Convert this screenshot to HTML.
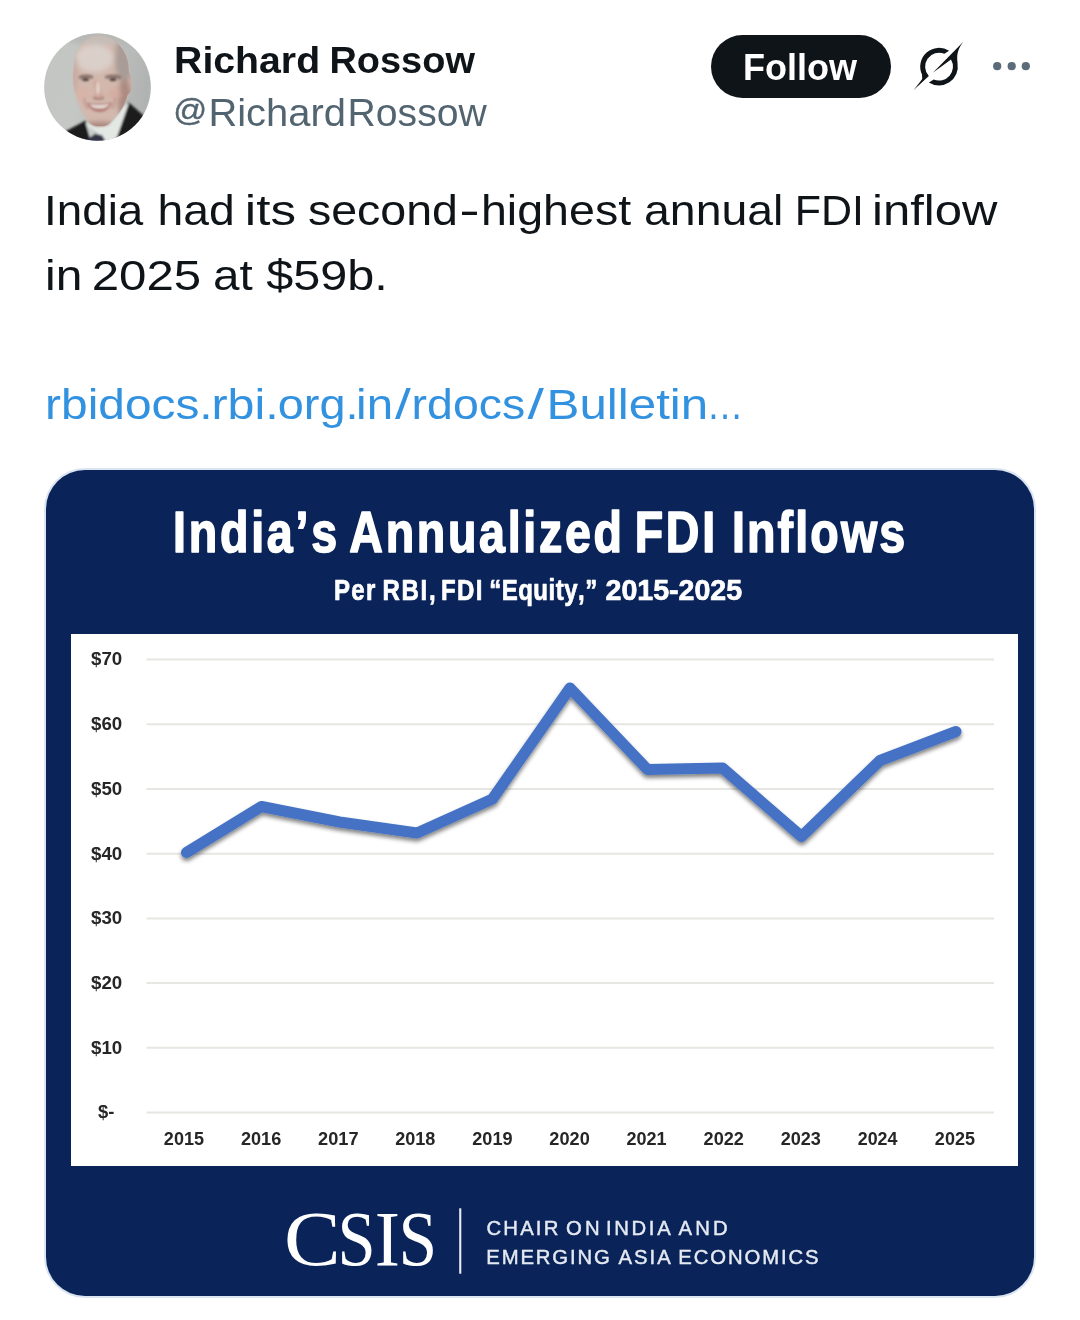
<!DOCTYPE html>
<html lang="en">
<head>
<meta charset="utf-8">
<title>Richard Rossow on X</title>
<style>
  html, body { margin: 0; padding: 0; background: #ffffff; }
  body { width: 1080px; height: 1320px; position: relative; overflow: hidden;
         font-family: "Liberation Sans", sans-serif; color: #0f1419; }
  .abs { position: absolute; }
  svg { display: block; overflow: visible; }
  svg text { font-family: "Liberation Sans", sans-serif; font-kerning: none; }
  .tweet { position: absolute; left: 0; top: 0; width: 1080px; height: 1320px; }
  .avatar { position: absolute; left: 40px; top: 30px; width: 115px; height: 115px; }
  .follow { position: absolute; left: 711px; top: 34.5px; width: 180px; height: 63.5px; border-radius: 32px; background: #0f1419; }
  .card { position: absolute; left: 46px; top: 469.6px; width: 988px; height: 826.4px; border-radius: 39px; background: #0a2459; overflow: hidden; box-shadow: 0 0 0 2px #dbe4f1; }
  .plot { position: absolute; left: 25.3px; top: 164.9px; width: 947px; height: 531.7px; background: #ffffff; }
</style>
</head>
<body>
<article class="tweet">

  <!-- avatar -->
  <div class="avatar">
    <svg width="115" height="115" viewBox="0 0 1080 1080">
      <defs>
        <filter id="b1" filterUnits="userSpaceOnUse" x="0" y="0" width="1080" height="1080"><feGaussianBlur stdDeviation="9"/></filter>
        <filter id="b2" filterUnits="userSpaceOnUse" x="0" y="0" width="1080" height="1080"><feGaussianBlur stdDeviation="26"/></filter>
        <filter id="b3" filterUnits="userSpaceOnUse" x="0" y="0" width="1080" height="1080"><feGaussianBlur stdDeviation="12"/></filter>
        <linearGradient id="abg" x1="0" y1="0" x2="1" y2="0.25">
          <stop offset="0" stop-color="#c2c5c2"/><stop offset="0.45" stop-color="#c4c7c4"/><stop offset="1" stop-color="#b0b3b1"/>
        </linearGradient>
        <clipPath id="acl"><ellipse cx="540" cy="537" rx="501" ry="503"/></clipPath>
        <clipPath id="head"><path d="M560 58 C440 60 345 150 325 300 C315 380 300 440 315 520 C330 640 380 760 450 860 C500 915 600 925 660 870 C740 800 800 700 822 610 C870 580 880 450 835 400 C840 250 760 70 560 58 Z"/></clipPath>
      </defs>
      <g clip-path="url(#acl)">
        <rect width="1080" height="1080" fill="url(#abg)"/>
        <ellipse cx="620" cy="60" rx="420" ry="90" fill="#b7b9b6" filter="url(#b2)"/>
        <!-- suit, shirt, tie -->
        <g filter="url(#b1)">
          <path d="M240 950 L430 850 L470 1010 L560 1080 L200 1080 Z" fill="#1b1b1f"/>
          <path d="M828 675 L975 805 L960 1080 L640 1080 L720 1000 Z" fill="#1b1b1f"/>
          <path d="M428 870 L470 1010 L540 1080 L660 1080 L725 1000 L835 685 L780 720 L640 900 L520 910 Z" fill="#e3e8e4"/>
          <path d="M440 900 L475 1005 L540 960 Z" fill="#c9cfca"/>
          <path d="M445 1025 L520 972 L585 990 L615 1045 L560 1080 L470 1080 Z" fill="#35364a"/>
        </g>
        <!-- head -->
        <g filter="url(#b1)">
          <path d="M560 58 C440 60 345 150 325 300 C315 380 300 440 315 520 C330 640 380 760 450 860 C500 915 600 925 660 870 C740 800 800 700 822 610 C870 580 880 450 835 400 C840 250 760 70 560 58 Z" fill="#d2b8ad"/>
        </g>
        <g clip-path="url(#head)">
          <g filter="url(#b2)">
            <ellipse cx="510" cy="265" rx="180" ry="130" fill="#dacfc9"/>
            <ellipse cx="580" cy="95" rx="240" ry="45" fill="#c6bdb8"/>
            <ellipse cx="790" cy="270" rx="85" ry="230" fill="#a99c96"/>
            <ellipse cx="795" cy="650" rx="65" ry="190" fill="#ab8a80"/>
            <ellipse cx="325" cy="420" rx="30" ry="170" fill="#c6aba2"/>
            <ellipse cx="410" cy="600" rx="60" ry="60" fill="#d8b2a7"/>
            <ellipse cx="700" cy="600" rx="60" ry="60" fill="#d5ada2"/>
            <ellipse cx="560" cy="905" rx="170" ry="40" fill="#ab867b"/>
          </g>
          <g filter="url(#b3)">
            <path d="M365 432 Q430 405 500 432 L495 458 Q430 440 370 462 Z" fill="#8b746c"/>
            <path d="M610 432 Q690 405 765 432 L758 462 Q690 440 615 458 Z" fill="#8b746c"/>
            <ellipse cx="428" cy="466" rx="34" ry="13" fill="#3b3132"/>
            <ellipse cx="685" cy="466" rx="34" ry="13" fill="#3b3132"/>
            <path d="M505 480 L520 600 L492 625 L520 640 L590 640 L610 620 L578 600 L560 480 Z" fill="#cda599"/>
            <path d="M498 630 Q545 652 603 630 L598 645 Q545 662 502 645 Z" fill="#96695f"/>
            <path d="M420 640 Q410 700 450 740" stroke="#bf948a" stroke-width="14" fill="none"/>
            <path d="M700 640 Q710 700 670 740" stroke="#bf948a" stroke-width="14" fill="none"/>
            <path d="M436 684 Q555 704 680 680 Q640 770 555 770 Q478 770 436 684 Z" fill="#b27a74"/>
            <path d="M462 698 Q555 712 656 694 Q624 738 555 738 Q492 738 462 698 Z" fill="#e6dbd6"/>
          </g>
          <ellipse cx="545" cy="545" rx="20" ry="65" fill="#e3cfc7" filter="url(#b3)"/>
        </g>
      </g>
    </svg>

  </div>

  <!-- name, handle, tweet text, link -->
  <svg class="abs" style="left:0;top:0" width="1080" height="460" viewBox="0 0 1080 460">
    <text y="73" font-size="37.5" font-weight="700" fill="#0f1419"><tspan x="174.08" textLength="146.01" lengthAdjust="spacingAndGlyphs">Richard</tspan> <tspan x="329.46" textLength="145.46" lengthAdjust="spacingAndGlyphs">Rossow</tspan></text>
    
    <text y="126.1" font-size="38" fill="#536471"><tspan x="173.17" y="120.8" font-size="32" stroke="#536471" stroke-width="0.4" textLength="33.91" lengthAdjust="spacingAndGlyphs">@</tspan><tspan x="208.43" y="126.1" textLength="137.44" lengthAdjust="spacingAndGlyphs">Richard</tspan><tspan x="347.59" textLength="139.11" lengthAdjust="spacingAndGlyphs">Rossow</tspan></text>

    <text y="225.4" font-size="43.4" fill="#0f1419"><tspan x="44.08" textLength="99.22" lengthAdjust="spacingAndGlyphs">India</tspan> <tspan x="157.49" textLength="77.19" lengthAdjust="spacingAndGlyphs">had</tspan> <tspan x="244.88" textLength="51.17" lengthAdjust="spacingAndGlyphs">its</tspan> <tspan x="307.9" textLength="150.1" lengthAdjust="spacingAndGlyphs">second</tspan><tspan x="459.27" textLength="20.46" lengthAdjust="spacingAndGlyphs">-</tspan><tspan x="480.97" textLength="150.17" lengthAdjust="spacingAndGlyphs">highest</tspan> <tspan x="644.03" textLength="139.38" lengthAdjust="spacingAndGlyphs">annual</tspan> <tspan x="794.78" textLength="69.19" lengthAdjust="spacingAndGlyphs">FDI</tspan> <tspan x="872.02" textLength="125.36" lengthAdjust="spacingAndGlyphs">inflow</tspan></text>
    <text y="290.1" font-size="43.4" fill="#0f1419"><tspan x="45.09" textLength="37.32" lengthAdjust="spacingAndGlyphs">in</tspan> <tspan x="91.72" textLength="109.54" lengthAdjust="spacingAndGlyphs">2025</tspan> <tspan x="212.98" textLength="39.67" lengthAdjust="spacingAndGlyphs">at</tspan> <tspan x="266.18" textLength="121.56" lengthAdjust="spacingAndGlyphs">$59b.</tspan></text>

    <text y="419.4" font-size="43.4" fill="#3392df"><tspan x="45.12" textLength="167.55" lengthAdjust="spacingAndGlyphs">rbidocs.</tspan><tspan x="211.49" textLength="67.12" lengthAdjust="spacingAndGlyphs">rbi.</tspan><tspan x="277.73" textLength="80.75" lengthAdjust="spacingAndGlyphs">org.</tspan><tspan x="356.12" textLength="36.96" lengthAdjust="spacingAndGlyphs">in</tspan><tspan x="395.0" textLength="15.8" lengthAdjust="spacingAndGlyphs">/</tspan><tspan x="411.62" textLength="113.56" lengthAdjust="spacingAndGlyphs">rdocs</tspan><tspan x="527.5" textLength="16.4" lengthAdjust="spacingAndGlyphs">/</tspan><tspan x="546.56" textLength="161.64" lengthAdjust="spacingAndGlyphs">Bulletin</tspan><tspan x="706.74" textLength="36.51" lengthAdjust="spacingAndGlyphs">…</tspan></text>
  </svg>

  <!-- follow button -->
  <div class="follow">
    <svg width="180" height="64" viewBox="0 0 180 64">
      <text x="31.99" y="44.8" font-size="36" font-weight="700" fill="#ffffff" textLength="113.94" lengthAdjust="spacingAndGlyphs">Follow</text>
    </svg>
  </div>

  <!-- grok icon -->
  <svg class="abs" style="left:905px;top:30px" width="70" height="70" viewBox="0 0 1080 1080">
    <path fill="#0f1419" d="M130 930 Q235 800 266 752 L262.2 687.6 A290 290 0 0 1 680 319.9 L607.3 366.4 A215 215 0 0 0 367.8 711.6 Z"/>
    <path fill="#0f1419" d="M900 180 L430 660 L709.3 454.3 A215 215 0 0 1 442.7 763.6 L367.5 808.5 A290 290 0 0 0 810.6 514.6 C812 450 772 345 900 180 Z"/>
  </svg>


  <!-- more dots -->
  <svg class="abs" style="left:985px;top:56px" width="60" height="20" viewBox="0 0 60 20">
    <circle cx="12.2" cy="10.2" r="4.1" fill="#5b6b79"/>
    <circle cx="26.7" cy="10.2" r="4.1" fill="#5b6b79"/>
    <circle cx="40.8" cy="10.2" r="4.1" fill="#5b6b79"/>
  </svg>

  <!-- chart card -->
  <div class="card">
    <div class="plot"></div>
    <svg class="abs" style="left:-46px;top:-469.6px" width="1080" height="1320" viewBox="0 0 1080 1320">
      <defs>
        <filter id="sh" x="-5%" y="-20%" width="110%" height="150%">
          <feGaussianBlur in="SourceAlpha" stdDeviation="2.2"/>
          <feOffset dx="0" dy="3" result="o"/>
          <feComponentTransfer><feFuncA type="linear" slope="0.5"/></feComponentTransfer>
          <feMerge><feMergeNode/><feMergeNode in="SourceGraphic"/></feMerge>
        </filter>
      </defs>
      <text y="552.2" font-size="56.8" transform="scale(0.82,1)" font-weight="700" fill="#ffffff" stroke="#ffffff" stroke-width="1.6" stroke-linejoin="round"><tspan x="211.08" letter-spacing="3.353">India’s</tspan> <tspan x="426.02" letter-spacing="3.295">Annualized</tspan> <tspan x="774.01" letter-spacing="3.296">FDI</tspan> <tspan x="892.54" letter-spacing="2.622">Inflows</tspan></text>
      <text y="600.0" font-size="28.6" transform="scale(0.84,1)" font-weight="700" fill="#ffffff" stroke="#ffffff" stroke-width="0.7" stroke-linejoin="round"><tspan x="397.61" letter-spacing="1.510">Per</tspan> <tspan x="455.35" letter-spacing="2.010">RBI,</tspan> <tspan x="525.11" letter-spacing="1.557">FDI</tspan> <tspan x="582.30" letter-spacing="0.587">“Equity,”</tspan> <tspan x="720.85" textLength="162.61" lengthAdjust="spacingAndGlyphs">2015-2025</tspan></text>

      <!-- gridlines -->
      <g stroke="#e6e6e3" stroke-width="2">
        <line x1="146.5" x2="994" y1="659.5" y2="659.5"/>
        <line x1="146.5" x2="994" y1="724.2" y2="724.2"/>
        <line x1="146.5" x2="994" y1="788.9" y2="788.9"/>
        <line x1="146.5" x2="994" y1="853.7" y2="853.7"/>
        <line x1="146.5" x2="994" y1="918.4" y2="918.4"/>
        <line x1="146.5" x2="994" y1="983.1" y2="983.1"/>
        <line x1="146.5" x2="994" y1="1047.8" y2="1047.8"/>
        <line x1="146.5" x2="994" y1="1112.5" y2="1112.5"/>
      </g>

      <!-- y labels -->
      <g fill="#262626">
        <text x="91.05" y="665.3" font-size="17.9" font-weight="700" textLength="31.21" lengthAdjust="spacingAndGlyphs">$70</text>
        <text x="91.05" y="730.0" font-size="17.9" font-weight="700" textLength="31.21" lengthAdjust="spacingAndGlyphs">$60</text>
        <text x="91.05" y="794.7" font-size="17.9" font-weight="700" textLength="31.21" lengthAdjust="spacingAndGlyphs">$50</text>
        <text x="91.05" y="859.5" font-size="17.9" font-weight="700" textLength="31.21" lengthAdjust="spacingAndGlyphs">$40</text>
        <text x="91.05" y="924.2" font-size="17.9" font-weight="700" textLength="31.21" lengthAdjust="spacingAndGlyphs">$30</text>
        <text x="91.05" y="988.9" font-size="17.9" font-weight="700" textLength="31.21" lengthAdjust="spacingAndGlyphs">$20</text>
        <text x="91.05" y="1053.6" font-size="17.9" font-weight="700" textLength="31.21" lengthAdjust="spacingAndGlyphs">$10</text>
        <text x="97.96" y="1118.3" font-size="17.9" font-weight="700" textLength="16.38" lengthAdjust="spacingAndGlyphs">$-</text>
      </g>

      <!-- x labels -->
      <g fill="#262626">
        <text x="163.87" y="1144.5" font-size="18" font-weight="700" textLength="40.13" lengthAdjust="spacingAndGlyphs">2015</text>
        <text x="240.97" y="1144.5" font-size="18" font-weight="700" textLength="40.28" lengthAdjust="spacingAndGlyphs">2016</text>
        <text x="318.07" y="1144.5" font-size="18" font-weight="700" textLength="40.43" lengthAdjust="spacingAndGlyphs">2017</text>
        <text x="395.17" y="1144.5" font-size="18" font-weight="700" textLength="40.18" lengthAdjust="spacingAndGlyphs">2018</text>
        <text x="472.27" y="1144.5" font-size="18" font-weight="700" textLength="40.3" lengthAdjust="spacingAndGlyphs">2019</text>
        <text x="549.37" y="1144.5" font-size="18" font-weight="700" textLength="40.37" lengthAdjust="spacingAndGlyphs">2020</text>
        <text x="626.47" y="1144.5" font-size="18" font-weight="700" textLength="40.13" lengthAdjust="spacingAndGlyphs">2021</text>
        <text x="703.57" y="1144.5" font-size="18" font-weight="700" textLength="40.36" lengthAdjust="spacingAndGlyphs">2022</text>
        <text x="780.67" y="1144.5" font-size="18" font-weight="700" textLength="40.28" lengthAdjust="spacingAndGlyphs">2023</text>
        <text x="857.78" y="1144.5" font-size="18" font-weight="700" textLength="39.71" lengthAdjust="spacingAndGlyphs">2024</text>
        <text x="934.87" y="1144.5" font-size="18" font-weight="700" textLength="40.13" lengthAdjust="spacingAndGlyphs">2025</text>
      </g>

      <!-- data line -->
      <polyline filter="url(#sh)" fill="none" stroke="#4472c4" stroke-width="11" stroke-linecap="round" stroke-linejoin="round"
        points="186.5,852.5 261.5,806.5 339.5,822.0 417,833.0 492.5,799.0 570,688.0 647.5,769.5 722.5,768.0 801.5,836.5 880,760.5 956,731.5"/>

      <!-- footer -->
      <text y="1265.4" font-size="78" style="font-family:'Liberation Serif',serif" fill="#ffffff"><tspan x="284.11" textLength="56.67" lengthAdjust="spacingAndGlyphs">C</tspan><tspan x="337.41" textLength="38.14" lengthAdjust="spacingAndGlyphs">S</tspan><tspan x="374.67" textLength="25.19" lengthAdjust="spacingAndGlyphs">I</tspan><tspan x="398.45" textLength="38.66" lengthAdjust="spacingAndGlyphs">S</tspan></text>
      <rect x="459.2" y="1208.3" width="2.1" height="65.4" fill="#e8ebf0"/>
      <text y="1234.8" font-size="20.3" fill="#e4e9f2" stroke="#e4e9f2" stroke-width="0.45"><tspan x="486.57" letter-spacing="2.153">CHAIR</tspan> <tspan x="566.04" letter-spacing="3.267">ON</tspan> <tspan x="605.93" letter-spacing="2.668">INDIA</tspan> <tspan x="678.46" letter-spacing="3.176">AND</tspan></text>
      <text y="1264.2" font-size="20.3" fill="#e4e9f2" stroke="#e4e9f2" stroke-width="0.45"><tspan x="486.33" letter-spacing="1.850">EMERGING</tspan> <tspan x="618.46" letter-spacing="2.006">ASIA</tspan> <tspan x="678.33" letter-spacing="1.901">ECONOMICS</tspan></text>
    </svg>
  </div>

</article>
</body>
</html>
